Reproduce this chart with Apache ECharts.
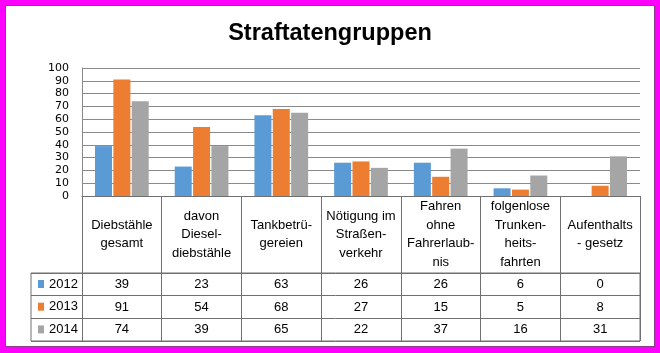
<!DOCTYPE html>
<html>
<head>
<meta charset="utf-8">
<script src="https://cdn.jsdelivr.net/npm/echarts@6/dist/echarts.min.js"></script>
<style>
  html, body { margin: 0; padding: 0; background: #fff; }
  #wrap { position: relative; width: 660px; height: 353px; }
  #chart { position: absolute; left: 0; top: 0; width: 660px; height: 353px; }
  /* magenta picture frame */
  #frame {
    position: absolute; left: 0; top: 0; width: 660px; height: 353px;
    box-sizing: border-box; pointer-events: none;
    border-style: solid; border-color: #ff00ff;
    border-width: 5px 5px 6px 5px;
    box-shadow: inset 0 0 0 1px #8a3c8a;
  }
</style>
</head>
<body>
<div id="wrap">
  <div id="chart"></div>
  <div id="frame"></div>
</div>
<script>
  // Kategorien (Tabellenkopf)
  const categories = [
    'Diebstähle\ngesamt',
    'davon\nDiesel-\ndiebstähle',
    'Tankbetrü-\ngereien',
    'Nötigung im\nStraßen-\nverkehr',
    'Fahren\nohne\nFahrerlaub-\nnis',
    'folgenlose\nTrunken-\nheits-\nfahrten',
    'Aufenthalts\n- gesetz'
  ]
  const years = ['2012', '2013', '2014']
  const values2012 = [39, 23, 63, 26, 26, 6, 0]
  const values2013 = [91, 54, 68, 27, 15, 5, 8]
  const values2014 = [74, 39, 65, 22, 37, 16, 31]
  const seriesValues = [values2012, values2013, values2014]
  const colors = ['#5b9bd5', '#ed7d31', '#a5a5a5']
  const yMin = 0
  const yMax = 100
  const yStep = 10

  const tableFont = 'Liberation Sans'
  const lineColor = '#707070'

  // Plot- und Tabellenlage
  const plotTop = 68
  const axisY = 196          // x-Achse / Tabellenoberkante
  const rowTop = 273         // erste Datenzeile
  const rowH = 22.7
  const tableBottom = 341
  const plotLeft = 82
  const plotRight = 20
  const legendLeft = 31

  // Zeilenachsen: je Jahr eine zusätzliche Kategorie-Achse mit den Werten
  const rowAxes = seriesValues.map((vals, i) => ({
    type: 'category',
    gridIndex: 0,
    position: 'bottom',
    offset: rowTop + i * rowH - axisY,
    data: vals.map(String),
    axisLine: { show: false },
    axisTick: { show: false },
    splitLine: { show: false },
    axisLabel: {
      interval: 0,
      margin: rowH / 2,
      verticalAlign: 'middle',
      fontFamily: tableFont,
      fontSize: 13,
      color: '#000'
    }
  }))

  const option = {
    animation: false,
    backgroundColor: '#fff',
    title: {
      text: 'Straftatengruppen',
      left: 'center',
      top: 22,
      padding: 0,
      textStyle: {
        fontFamily: 'Liberation Sans',
        fontWeight: 'bold',
        fontSize: 23.5,
        color: '#000'
      }
    },
    legend: {
      data: years,
      orient: 'vertical',
      left: legendLeft + 7,
      top: rowTop + 4,
      padding: 0,
      itemWidth: 6,
      itemHeight: 8,
      itemGap: rowH - 14,
      icon: 'rect',
      textStyle: {
        fontFamily: tableFont,
        fontSize: 13,
        lineHeight: 14,
        color: '#000'
      }
    },
    grid: [
      // Diagramm
      { left: plotLeft, right: plotRight, top: plotTop, bottom: 353 - axisY },
      // Tabellenraster der Datenzeilen (inkl. Legendenspalte)
      {
        left: legendLeft, right: plotRight, top: rowTop, bottom: 353 - tableBottom,
        show: true, borderColor: lineColor, borderWidth: 1, backgroundColor: 'transparent'
      }
    ],
    xAxis: [
      {
        type: 'category',
        gridIndex: 0,
        position: 'bottom',
        data: categories,
        axisLine: { show: true, lineStyle: { color: lineColor } },
        axisTick: { show: true, length: tableBottom - axisY, lineStyle: { color: lineColor } },
        splitLine: { show: false },
        axisLabel: {
          interval: 0,
          margin: (rowTop - axisY) / 2,
          verticalAlign: 'middle',
          lineHeight: 18.5,
          fontFamily: tableFont,
          fontSize: 13,
          color: '#000'
        }
      },
      ...rowAxes,
      { type: 'value', gridIndex: 1, show: false }
    ],
    yAxis: [
      {
        type: 'value',
        gridIndex: 0,
        min: yMin,
        max: yMax,
        interval: yStep,
        axisLine: { show: true, lineStyle: { color: '#8a8a8a' } },
        axisTick: { show: false },
        splitLine: { show: true, lineStyle: { color: '#8a8a8a', width: 1 } },
        axisLabel: {
          margin: 13,
          fontFamily: 'DejaVu Sans',
          fontSize: 11,
          color: '#000'
        }
      },
      {
        type: 'category',
        gridIndex: 1,
        data: years,
        inverse: true,
        axisLine: { show: false },
        axisTick: { show: false },
        axisLabel: { show: false },
        splitLine: { show: true, lineStyle: { color: lineColor } }
      }
    ],
    series: seriesValues.map((vals, i) => ({
      name: years[i],
      type: 'bar',
      xAxisIndex: 0,
      yAxisIndex: 0,
      barWidth: 17,
      barGap: '8%',
      itemStyle: { color: colors[i] },
      data: vals
    }))
  }

  const chart = echarts.init(document.getElementById('chart'), null, { renderer: 'canvas' })
  chart.setOption(option)
</script>
</body>
</html>
